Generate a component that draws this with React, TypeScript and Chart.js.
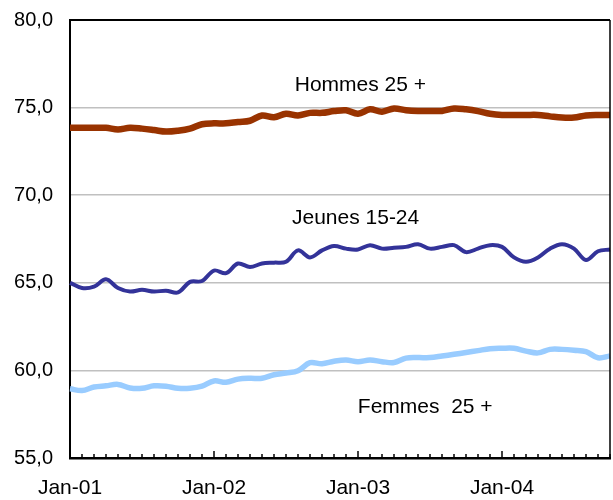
import React, { useEffect, useRef } from "react";
import { Chart, registerables } from "chart.js";

Chart.register(...registerables);

const monthNames = ["Jan", "Feb", "Mar", "Apr", "May", "Jun", "Jul", "Aug", "Sep", "Oct", "Nov", "Dec"];
const years = ["01", "02", "03", "04"];
const categories = years.flatMap((y) => monthNames.map((m) => `${m}-${y}`)).slice(0, 46);

const hommes25 = [
  73.85, 73.85, 73.85, 73.85, 73.75, 73.85, 73.8, 73.72, 73.63, 73.68, 73.8, 74.05,
  74.1, 74.1, 74.18, 74.25, 74.55, 74.45, 74.65, 74.55, 74.7, 74.7, 74.8, 74.85,
  74.65, 74.9, 74.77, 74.95, 74.85, 74.81, 74.81, 74.81, 74.95, 74.9, 74.8, 74.65,
  74.58, 74.58, 74.58, 74.58, 74.5, 74.43, 74.43, 74.55, 74.58, 74.58,
];

const jeunes1524 = [
  65.0, 64.7, 64.78, 65.2, 64.7, 64.5, 64.6, 64.5, 64.55, 64.45, 65.05, 65.1,
  65.7, 65.55, 66.1, 65.9, 66.1, 66.15, 66.2, 66.85, 66.45, 66.85, 67.1, 66.95,
  66.9, 67.15, 66.95, 67.0, 67.05, 67.2, 66.95, 67.05, 67.15, 66.75, 66.95, 67.15,
  67.05, 66.45, 66.2, 66.45, 66.95, 67.2, 66.95, 66.3, 66.8, 66.9,
];

const femmes25 = [
  58.95, 58.85, 59.05, 59.12, 59.2, 59.0, 58.98, 59.12, 59.1, 58.98, 58.98, 59.1,
  59.4, 59.32, 59.5, 59.55, 59.55, 59.75, 59.85, 59.98, 60.44, 60.38, 60.52, 60.59,
  60.5, 60.59, 60.5, 60.45, 60.7, 60.73, 60.73, 60.82, 60.92, 61.02, 61.13, 61.24,
  61.26, 61.26, 61.1, 61.0, 61.2, 61.2, 61.15, 61.07, 60.72, 60.83,
];

const yMin = 55;
const yMax = 80;
const yStep = 5;

const seriesNames = ["Hommes 25 +", "Jeunes 15-24", "Femmes  25 +"];
// annotation anchor in data space: [month index, y value at text baseline]
const labelAnchors: [number, number][] = [
  [24.2, 75.95],
  [23.8, 68.36],
  [29.6, 57.59],
];

const FONT = '"Liberation Sans", Arial, sans-serif';

const decorPlugin = {
  id: "decor",
  afterDatasetsDraw(chart: any) {
    const { ctx, chartArea, scales } = chart;
    const x = scales.x;
    const y = scales.y;
    ctx.save();
    ctx.strokeStyle = "#000";
    ctx.lineWidth = 1.5;
    x.ticks.forEach((_t: any, i: number) => {
      const px = x.getPixelForTick(i);
      const len = i % 12 === 0 ? 7 : 4;
      ctx.beginPath();
      ctx.moveTo(px, chartArea.bottom);
      ctx.lineTo(px, chartArea.bottom - len);
      ctx.stroke();
    });
    ctx.beginPath();
    ctx.moveTo(chartArea.right, chartArea.top);
    ctx.lineTo(chartArea.right, chartArea.bottom);
    ctx.stroke();
    ctx.fillStyle = "#000";
    ctx.font = `21px ${FONT}`;
    ctx.textAlign = "center";
    ctx.textBaseline = "alphabetic";
    seriesNames.forEach((name, i) => {
      const [ix, yv] = labelAnchors[i];
      ctx.fillText(name, x.getPixelForValue(ix), y.getPixelForValue(yv));
    });
    ctx.restore();
  },
};

export default function App() {
  const ref = useRef<HTMLCanvasElement | null>(null);

  useEffect(() => {
    if (!ref.current) return;
    const chart = new Chart(ref.current, {
      type: "line",
      data: {
        labels: categories,
        datasets: [
          {
            label: seriesNames[0],
            data: hommes25,
            borderColor: "#993300",
            borderWidth: 6.5,
            pointRadius: 0,
            tension: 0.35,
            fill: false,
          },
          {
            label: seriesNames[1],
            data: jeunes1524,
            borderColor: "#333399",
            borderWidth: 4,
            pointRadius: 0,
            tension: 0.35,
            fill: false,
          },
          {
            label: seriesNames[2],
            data: femmes25,
            borderColor: "#99CCFF",
            borderWidth: 5.5,
            pointRadius: 0,
            tension: 0.35,
            fill: false,
          },
        ],
      },
      options: {
        animation: false,
        responsive: true,
        maintainAspectRatio: false,
        layout: { padding: { top: 20, right: 3, left: 0, bottom: 0 } },
        plugins: {
          legend: { display: false },
          tooltip: { enabled: false },
          title: { display: false },
        },
        scales: {
          x: {
            type: "category",
            offset: false,
            grid: {
              display: true,
              drawOnChartArea: false,
              drawTicks: true,
              tickLength: 18,
              color: "rgba(0,0,0,0)",
              tickColor: "rgba(0,0,0,0)",
            },
            border: { display: true, color: "#000", width: 2.5 },
            ticks: {
              autoSkip: false,
              maxRotation: 0,
              minRotation: 0,
              padding: 0,
              color: "#000",
              font: { family: FONT, size: 21 },
              callback: (_v: any, i: number) => (i % 12 === 0 ? categories[i] : ""),
            },
            afterFit: (s: any) => {
              s.height = 42;
            },
          },
          y: {
            min: yMin,
            max: yMax,
            grid: {
              drawTicks: true,
              tickLength: 17,
              tickColor: "rgba(0,0,0,0)",
              color: (c: any) => (c.tick && c.tick.value === yMax ? "#000" : "#c0c0c0"),
              lineWidth: (c: any) => (c.tick && c.tick.value === yMax ? 2 : 1.5),
            },
            border: { display: true, color: "#000", width: 2 },
            ticks: {
              stepSize: yStep,
              padding: 0,
              color: "#000",
              font: { family: FONT, size: 20 },
              callback: (v: any) => Number(v).toFixed(1).replace(".", ","),
            },
            afterFit: (s: any) => {
              s.width = 70;
            },
          },
        },
      },
      plugins: [decorPlugin],
    });
    return () => chart.destroy();
  }, []);

  return (
    <div style={{ position: "fixed", left: 0, top: 0, width: 613, height: 500, background: "#fff" }}>
      <canvas ref={ref} />
    </div>
  );
}
